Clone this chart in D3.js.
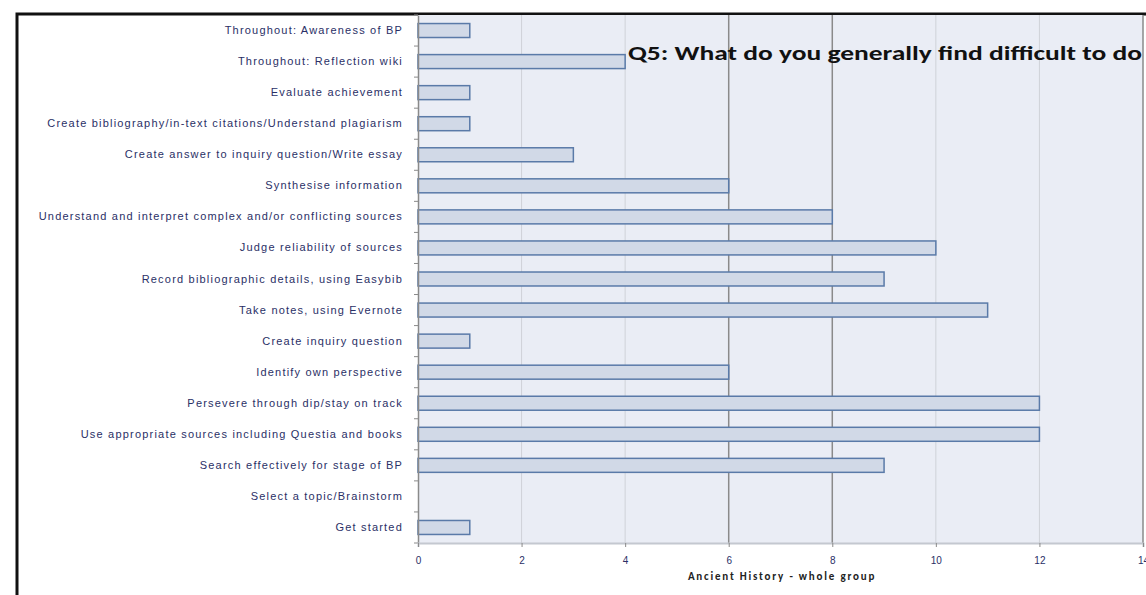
<!DOCTYPE html>
<html>
<head>
<meta charset="utf-8">
<script src="https://cdn.jsdelivr.net/npm/d3@7"></script>
<style>
  body { margin: 0; background: #fff; }
  svg { display: block; font-family: Calibri, Carlito, "Liberation Sans", Arial, sans-serif; }
</style>
</head>
<body>
<div class="root"></div>
<script>
const width = 1146;
const height = 595;

const categories = [
  "Throughout: Awareness of BP",
  "Throughout: Reflection wiki",
  "Evaluate achievement",
  "Create bibliography/in-text citations/Understand plagiarism",
  "Create answer to inquiry question/Write essay",
  "Synthesise information",
  "Understand and interpret complex and/or conflicting sources",
  "Judge reliability of sources",
  "Record bibliographic details, using Easybib",
  "Take notes, using Evernote",
  "Create inquiry question",
  "Identify own perspective",
  "Persevere through dip/stay on track",
  "Use appropriate sources including Questia and books",
  "Search effectively for stage of BP",
  "Select a topic/Brainstorm",
  "Get started"
];
const counts = [1, 4, 1, 1, 3, 6, 8, 10, 9, 11, 1, 6, 12, 12, 9, 0, 1];
const xTicks = [0, 2, 4, 6, 8, 10, 12, 14];
const title = "Q5: What do you generally find difficult to do";
const axisTitle = "Ancient History - whole group";

const plot = { left: 418, right: 1143, top: 15, bottom: 543 };

const svg = d3.select(".root").append("svg")
  .attr("width", width)
  .attr("height", height);

// outer chart frame (cut off at right and bottom like the screenshot)
svg.append("path")
  .attr("d", `M17,${height + 5} V14 H${width + 5}`)
  .attr("fill", "none")
  .attr("stroke", "#111")
  .attr("stroke-width", 3);

const x = d3.scaleLinear().domain([0, 14]).range([plot.left, plot.right]);
const y = d3.scaleBand().domain(categories).range([plot.top, plot.bottom]).paddingInner(0.55).paddingOuter(0.275);
const yStep = d3.scaleBand().domain(categories).range([plot.top, plot.bottom]);

svg.append("rect")
  .attr("x", plot.left).attr("y", plot.top)
  .attr("width", plot.right - plot.left).attr("height", plot.bottom - plot.top)
  .attr("fill", "#eaedf5");

// vertical gridlines
svg.append("g").selectAll("line")
  .data(xTicks.slice(1))
  .join("line")
  .attr("x1", d => x(d)).attr("x2", d => x(d))
  .attr("y1", plot.top).attr("y2", plot.bottom)
  .attr("stroke", d => (d === 6 || d === 8 || d === 14) ? "#8a8a8a" : "#cfd2d8")
  .attr("stroke-width", d => (d === 6 || d === 8 || d === 14) ? 1.5 : 1);

// bars
svg.append("g").selectAll("rect")
  .data(categories)
  .join("rect")
  .attr("x", x(0))
  .attr("y", d => y(d))
  .attr("width", (d, i) => x(counts[i]) - x(0))
  .attr("height", y.bandwidth())
  .attr("fill", "#d1d9e7")
  .attr("stroke", (d, i) => counts[i] > 0 ? "#5a7aa8" : "none")
  .attr("stroke-width", 1.5);

// axes
const yAxis = d3.axisLeft(yStep).tickSize(0).tickPadding(15);
const gy = svg.append("g").attr("transform", `translate(${plot.left},0)`).call(yAxis);
gy.select(".domain").attr("stroke", "#8a8a8a").attr("stroke-width", 1.5);
gy.selectAll("text")
  .attr("font-size", 11)
  .attr("letter-spacing", 1.2)
  .attr("fill", "#2a2f66");
gy.append("g").selectAll("line")
  .data(d3.range(categories.length + 1))
  .join("line")
  .attr("x1", -4).attr("x2", 0)
  .attr("y1", i => plot.top + i * yStep.step())
  .attr("y2", i => plot.top + i * yStep.step())
  .attr("stroke", "#8a8a8a");

const xAxis = d3.axisBottom(x).tickValues(xTicks).tickSize(4).tickPadding(10);
const gx = svg.append("g").attr("transform", `translate(0,${plot.bottom})`).call(xAxis);
gx.select(".domain").attr("stroke", "#c4c8d0").attr("stroke-width", 2);
gx.selectAll(".tick line").attr("stroke", "#8a8a8a");
gx.selectAll("text").attr("font-size", 10).attr("fill", "#2a2f66");

svg.append("text")
  .attr("x", 782).attr("y", 580)
  .attr("text-anchor", "middle")
  .attr("font-size", 11)
  .attr("letter-spacing", 1.8)
  .attr("font-weight", "bold")
  .attr("fill", "#222")
  .text(axisTitle);

svg.append("text")
  .attr("x", 628).attr("y", 60)
  .attr("font-size", 21)
  .attr("textLength", 514)
  .attr("lengthAdjust", "spacingAndGlyphs")
  .attr("font-weight", "bold")
  .attr("fill", "#111")
  .text(title);
</script>
</body>
</html>
